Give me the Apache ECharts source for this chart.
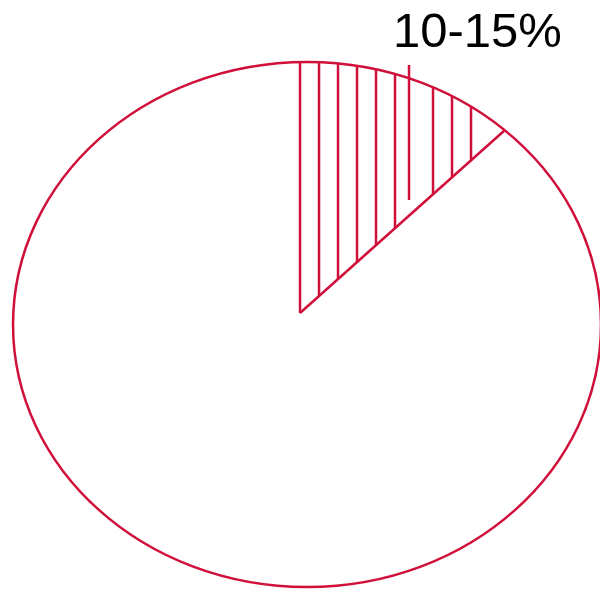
<!DOCTYPE html>
<html>
<head>
<meta charset="utf-8">
<script src="https://cdn.jsdelivr.net/npm/echarts@6/dist/echarts.min.js"></script>
<style>
  html, body { margin: 0; padding: 0; background: #fff; }
  #chart { width: 600px; height: 589px; }
</style>
</head>
<body>
<div id="chart"></div>
<script>
// Share band highlighted on the oval pie
var categories = ['10-15%'];
var shareValues = [12.5];   // percent of the whole (midpoint of the band)

var RED = '#d0103a';

var chart = echarts.init(document.getElementById('chart'), null, { renderer: 'canvas' });

function renderOval(params, api) {
  var W = api.getWidth(), H = api.getHeight();
  // oval outline
  var cx = W * 0.5117, cy = H * 0.551, rx = W * 0.49, ry = H * 0.4457;
  // slice apex (slightly off the oval's centre)
  var ax = cx - 7, ay = cy - 11.5;

  var share = api.value(0);
  var theta = share / 100 * Math.PI * 2;
  var dx = rx * Math.sin(theta), dy = -ry * Math.cos(theta);

  // ray from apex to oval boundary
  function hit(dx, dy) {
    var px = (ax - cx) / rx, py = (ay - cy) / ry;
    var qx = dx / rx, qy = dy / ry;
    var a = qx * qx + qy * qy, b = 2 * (px * qx + py * qy), c = px * px + py * py - 1;
    var t = (-b + Math.sqrt(b * b - 4 * a * c)) / (2 * a);
    return [ax + dx * t, ay + dy * t];
  }
  var topPt = hit(0, -1);
  var endPt = hit(dx, dy);

  function arcY(x) {
    var u = (x - cx) / rx;
    return cy - ry * Math.sqrt(Math.max(0, 1 - u * u));
  }
  function edgeY(x) {
    return ay + (x - ax) * (endPt[1] - ay) / (endPt[0] - ax);
  }

  var LW = 2.5;
  var lineStyle = { stroke: RED, lineWidth: LW, fill: null };
  var children = [];

  children.push({
    type: 'ellipse',
    shape: { cx: cx, cy: cy, rx: rx, ry: ry },
    style: { stroke: RED, lineWidth: LW, fill: 'none' }
  });
  children.push({ type: 'line', shape: { x1: ax, y1: ay, x2: topPt[0], y2: topPt[1] }, style: lineStyle });
  children.push({ type: 'line', shape: { x1: ax, y1: ay, x2: endPt[0], y2: endPt[1] }, style: lineStyle });

  // leader line from the label down into the slice
  var leaderX = ax + 109;
  children.push({ type: 'line', shape: { x1: leaderX, y1: 65, x2: leaderX, y2: 200 }, style: lineStyle });

  // vertical hatching inside the slice
  var pitch = 19;
  for (var x = ax + pitch; x < endPt[0] - 20; x += pitch) {
    if (Math.abs(x - leaderX) < 7) continue;
    var y1 = arcY(x), y2 = edgeY(x);
    if (y2 - y1 < 4) continue;
    children.push({ type: 'line', shape: { x1: x, y1: y1, x2: x, y2: y2 }, style: lineStyle });
  }

  children.push({
    type: 'text',
    x: leaderX - 16, y: 33,
    style: {
      text: categories[params.dataIndex],
      font: '49px "Liberation Sans", Arial, sans-serif',
      fill: '#000',
      align: 'left',
      verticalAlign: 'middle'
    }
  });

  return { type: 'group', children: children };
}

chart.setOption({
  animation: false,
  backgroundColor: '#fff',
  series: [{
    type: 'custom',
    coordinateSystem: 'none',
    renderItem: renderOval,
    data: shareValues.map(function (v, i) { return { name: categories[i], value: [v] }; })
  }]
});
</script>
</body>
</html>
